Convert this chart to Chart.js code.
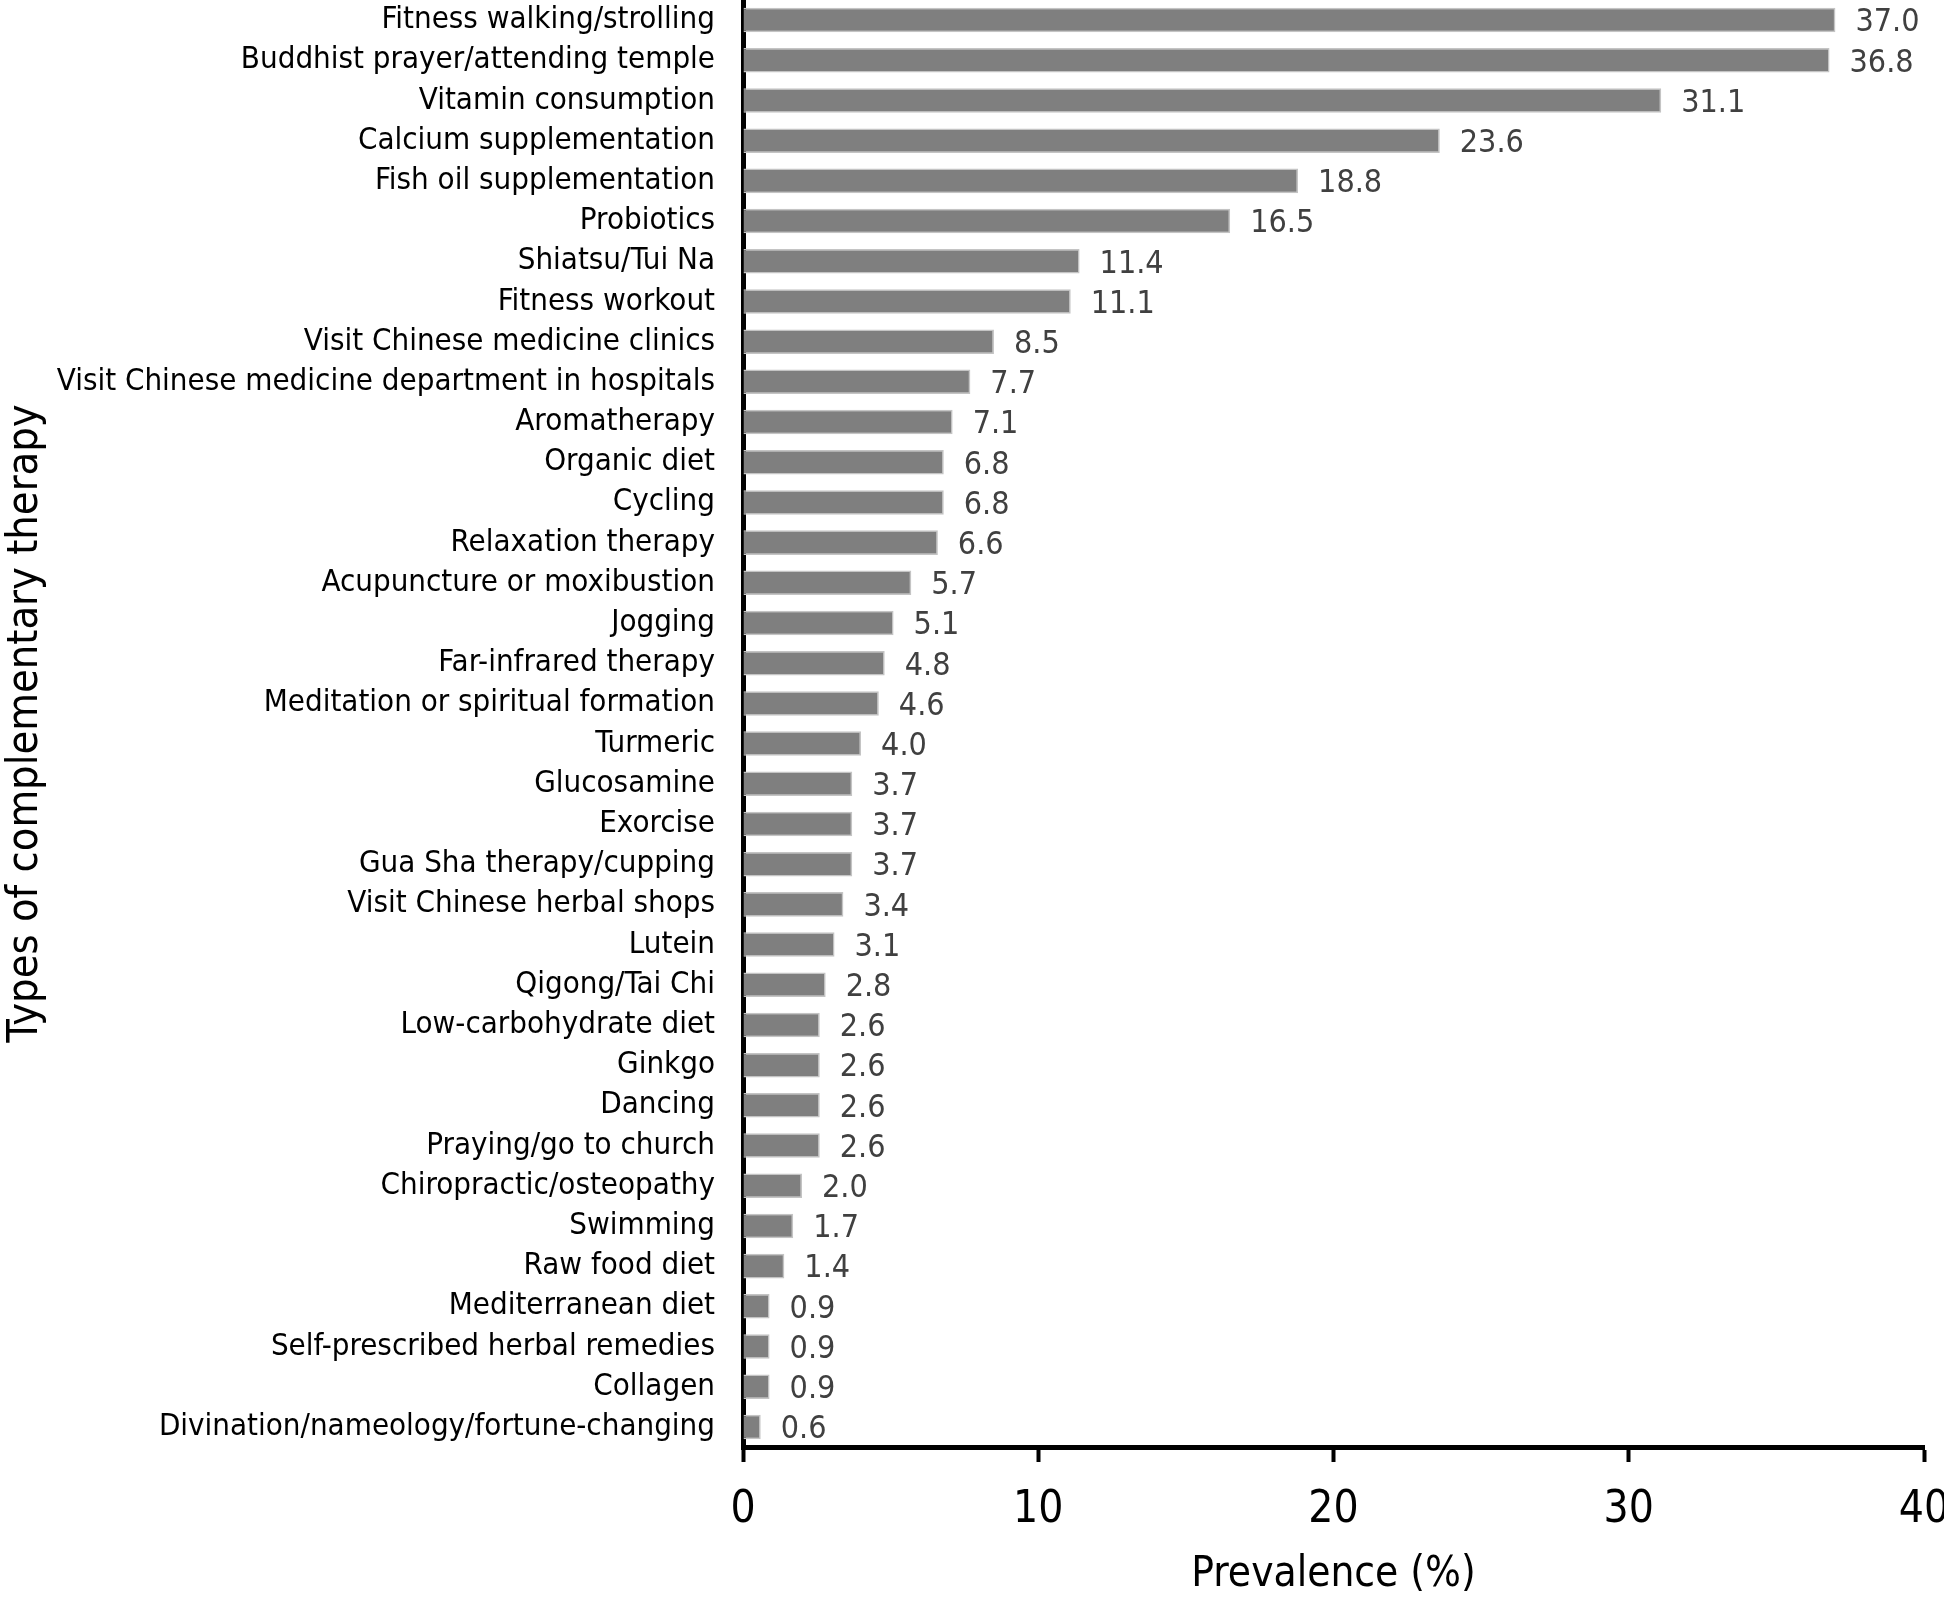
<!DOCTYPE html>
<html>
<head>
<meta charset="utf-8">
<script src="https://cdn.jsdelivr.net/npm/chart.js@4"></script>
<style>
  body { margin: 0; background: #fff; }
  #wrap { width: 1944px; height: 1600px; position: relative; }
</style>
</head>
<body>
<div id="wrap"><canvas id="myChart"></canvas></div>
<script>
const therapies = [
    "Fitness walking/strolling", "Buddhist prayer/attending temple", "Vitamin consumption",
    "Calcium supplementation", "Fish oil supplementation", "Probiotics", "Shiatsu/Tui Na",
    "Fitness workout", "Visit Chinese medicine clinics",
    "Visit Chinese medicine department in hospitals", "Aromatherapy", "Organic diet",
    "Cycling", "Relaxation therapy", "Acupuncture or moxibustion", "Jogging",
    "Far-infrared therapy", "Meditation or spiritual formation", "Turmeric", "Glucosamine",
    "Exorcise", "Gua Sha therapy/cupping", "Visit Chinese herbal shops", "Lutein",
    "Qigong/Tai Chi", "Low-carbohydrate diet", "Ginkgo", "Dancing", "Praying/go to church",
    "Chiropractic/osteopathy", "Swimming", "Raw food diet", "Mediterranean diet",
    "Self-prescribed herbal remedies", "Collagen", "Divination/nameology/fortune-changing"
];
const prevalence = [
    37.0, 36.8, 31.1, 23.6, 18.8, 16.5, 11.4, 11.1, 8.5, 7.7, 7.1, 6.8, 6.8, 6.6, 5.7, 5.1,
    4.8, 4.6, 4.0, 3.7, 3.7, 3.7, 3.4, 3.1, 2.8, 2.6, 2.6, 2.6, 2.6, 2.0, 1.7, 1.4, 0.9,
    0.9, 0.9, 0.6
];
const xTicks = [0, 10, 20, 30, 40];

const FONT = "'DejaVu Sans Condensed', 'DejaVu Sans', sans-serif";

// value labels at the end of each bar
const valueLabels = {
    id: 'valueLabels',
    afterDatasetsDraw(chart) {
        const ctx = chart.ctx;
        const meta = chart.getDatasetMeta(0);
        ctx.save();
        ctx.font = "32px " + FONT;
        ctx.fillStyle = '#404040';
        ctx.textAlign = 'left';
        ctx.textBaseline = 'middle';
        meta.data.forEach((bar, i) => {
            ctx.fillText(prevalence[i].toFixed(1), bar.x + 20, bar.y + 3);
        });
        ctx.restore();
    }
};

const ctx = document.getElementById('myChart').getContext('2d');
const myChart = new Chart(ctx, {
    type: 'bar',
    data: {
        labels: therapies,
        datasets: [{
            data: prevalence,
            backgroundColor: '#7f7f7f',
            borderColor: '#c4c4c4',
            borderWidth: 1.5,
            categoryPercentage: 1,
            barPercentage: 0.61
        }]
    },
    plugins: [valueLabels],
    options: {
        indexAxis: 'y',
        responsive: true,
        maintainAspectRatio: false,
        animation: false,
        layout: { padding: { top: 0, right: 20, left: 0, bottom: 0 } },
        plugins: {
            legend: { display: false },
            tooltip: { enabled: false }
        },
        scales: {
            x: {
                min: 0,
                max: 40,
                afterBuildTicks: axis => { axis.ticks = xTicks.map(v => ({ value: v })); },
                afterFit: axis => {
                    axis.height = 153;
                    axis.paddingLeft = 0;
                    axis.paddingRight = 0;
                },
                border: { display: true, color: '#000', width: 5 },
                grid: {
                    drawOnChartArea: false,
                    drawTicks: true,
                    tickLength: 15,
                    tickWidth: 4,
                    tickColor: '#000'
                },
                ticks: {
                    color: '#000',
                    font: { family: FONT, size: 44 },
                    padding: 22,
                    maxRotation: 0
                },
                title: {
                    display: true,
                    text: 'Prevalence (%)',
                    color: '#000',
                    font: { family: FONT, size: 42 },
                    padding: { top: 0, bottom: 0 }
                }
            },
            y: {
                afterFit: axis => {
                    axis.width = 743;
                    axis.paddingTop = 0;
                    axis.paddingBottom = 0;
                },
                border: { display: true, color: '#000', width: 5 },
                grid: { display: false, drawTicks: false },
                ticks: {
                    color: '#000',
                    font: { family: FONT, size: 31 },
                    padding: 28,
                    autoSkip: false
                },
                title: {
                    display: true,
                    text: 'Types of complementary therapy',
                    color: '#000',
                    font: { family: FONT, size: 43 },
                    padding: { top: 0, bottom: 0 }
                }
            }
        }
    }
});
</script>
</body>
</html>
